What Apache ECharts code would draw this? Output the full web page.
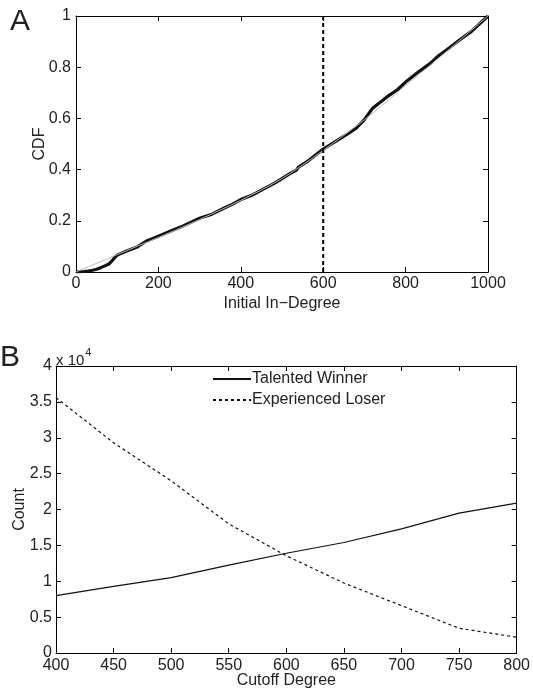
<!DOCTYPE html>
<html>
<head>
<meta charset="utf-8">
<script src="https://cdn.jsdelivr.net/npm/echarts@6/dist/echarts.min.js"></script>
<style>
html,body{margin:0;padding:0;background:#fff;}
#chart{width:533px;height:690px;}
</style>
</head>
<body>
<div id="chart"></div>
<script>
// Panel A: empirical CDF of initial in-degree
const cdfDegree = [0,10,20,30,40,50,60,70,80,88,95,100,120,150,170,200,230,260,300,330,360,380,400,430,450,480,500,520,535,540,560,580,600,620,640,660,680,700,720,740,760,780,800,830,860,880,900,930,960,1000];
const cdfValue  = [0,0.001,0.002,0.004,0.007,0.011,0.017,0.024,0.031,0.045,0.058,0.066,0.08,0.099,0.12,0.14,0.16,0.18,0.21,0.226,0.25,0.265,0.283,0.302,0.32,0.345,0.365,0.385,0.398,0.41,0.43,0.455,0.48,0.50,0.52,0.54,0.562,0.595,0.64,0.665,0.69,0.712,0.742,0.78,0.815,0.845,0.868,0.905,0.94,1.0];
// Panel A: grey reference curve
const refDegree = [0,100,200,300,400,500,600,700,800,900,1000];
const refValue  = [0,0.068,0.135,0.205,0.28,0.365,0.475,0.595,0.728,0.862,1.0];
const cutoffMark = 600;
// Panel B
const cutoffDegree = [400,450,500,550,600,650,700,750,800];
const talentedWinner = [8000,9280,10500,12250,13900,15400,17300,19500,20900];
const experiencedLoser = [35600,29300,24000,18000,13550,9750,6600,3450,2200];
const yTicksB = [0,0.5,1,1.5,2,2.5,3,3.5,4];

const FONT = "'Liberation Sans', Arial, Helvetica, sans-serif";
const TXT = '#222';
const zip = (a, b) => a.map((v, i) => [v, b[i]]);

function axisBase(extra) {
  return Object.assign({
    nameMoveOverlap: false,
    axisLine: { show: true, onZero: false, lineStyle: { color: '#000', width: 1 } },
    axisTick: { show: true, inside: true, length: 5, lineStyle: { color: '#000', width: 1 } },
    splitLine: { show: false },
    axisLabel: { color: TXT, fontSize: 16, fontFamily: FONT },
    nameTextStyle: { color: TXT, fontSize: 16, fontFamily: FONT }
  }, extra);
}
function mirror(extra) {
  const a = axisBase(extra);
  a.axisLabel = { show: false };
  return a;
}
const plain = v => String(v);

const chart = echarts.init(document.getElementById('chart'), null, { renderer: 'canvas' });
chart.setOption({
  backgroundColor: '#fff',
  animation: false,
  textStyle: { fontFamily: FONT },
  grid: [
    { left: 76, top: 16, width: 412, height: 256, containLabel: false },
    { left: 56, top: 366, width: 464, height: 287, containLabel: false }
  ],
  legend: {
    data: ['Talented Winner', 'Experienced Loser'],
    orient: 'vertical',
    left: 212,
    top: 371,
    itemWidth: 38,
    itemHeight: 2,
    itemGap: 5,
    padding: 0,
    textStyle: { color: TXT, fontSize: 16, fontFamily: FONT, padding: [0, 0, 0, -4] },
    selectedMode: false
  },
  graphic: [
    { type: 'text', left: 10, top: 7, style: { text: 'A', fontSize: 30, fontFamily: FONT, fill: TXT } },
    { type: 'text', left: 0, top: 343, style: { text: 'B', fontSize: 30, fontFamily: FONT, fill: TXT } },
    { type: 'text', left: 56, top: 347, style: {
        text: '{a|x 10}{b|4}', fontFamily: FONT, fill: TXT,
        rich: { a: { fontSize: 15, fill: TXT, fontFamily: FONT, verticalAlign: 'bottom' },
                b: { fontSize: 11, fill: TXT, fontFamily: FONT, verticalAlign: 'top', padding: [0, 0, 10, 1] } }
      } }
  ],
  xAxis: [
    axisBase({ gridIndex: 0, type: 'value', position: 'bottom', min: 0, max: 1000, interval: 200,
      name: 'Initial In\u2212Degree', nameLocation: 'middle', nameGap: 24,
      axisLabel: { color: TXT, fontSize: 16, fontFamily: FONT, margin: 4, formatter: plain } }),
    mirror({ gridIndex: 0, type: 'value', position: 'top', min: 0, max: 1000, interval: 200 }),
    axisBase({ gridIndex: 1, type: 'value', position: 'bottom', min: 400, max: 800, interval: 50,
      name: 'Cutoff Degree', nameLocation: 'middle', nameGap: 20,
      axisLabel: { color: TXT, fontSize: 16, fontFamily: FONT, margin: 5, formatter: plain } }),
    mirror({ gridIndex: 1, type: 'value', position: 'top', min: 400, max: 800, interval: 50 })
  ],
  yAxis: [
    axisBase({ gridIndex: 0, type: 'value', position: 'left', min: 0, max: 1, interval: 0.2,
      name: 'CDF', nameLocation: 'middle', nameGap: 28,
      axisLabel: { color: TXT, fontSize: 16, fontFamily: FONT, margin: 5 } }),
    mirror({ gridIndex: 0, type: 'value', position: 'right', min: 0, max: 1, interval: 0.2 }),
    axisBase({ gridIndex: 1, type: 'value', position: 'left', min: 0, max: 40000, interval: 5000,
      name: 'Count', nameLocation: 'middle', nameGap: 28,
      axisLabel: { color: TXT, fontSize: 16, fontFamily: FONT, margin: 4,
        formatter: v => String(yTicksB[Math.round(v / 5000)]) } }),
    mirror({ gridIndex: 1, type: 'value', position: 'right', min: 0, max: 40000, interval: 5000 })
  ],
  series: [
    { type: 'line', xAxisIndex: 0, yAxisIndex: 0, symbol: 'none', silent: true,
      data: zip(cdfDegree, cdfValue), lineStyle: { color: '#111', width: 3.2 }, z: 3 },
    { type: 'line', xAxisIndex: 0, yAxisIndex: 0, symbol: 'none', silent: true, smooth: 0.3,
      data: zip(refDegree, refValue), lineStyle: { color: '#b8b8b8', width: 1 }, z: 4 },
    { type: 'line', xAxisIndex: 0, yAxisIndex: 0, symbol: 'none', silent: true,
      data: [[cutoffMark, 0], [cutoffMark, 1]], lineStyle: { color: '#000', width: 2, type: [4, 3] }, z: 5 },
    { name: 'Talented Winner', type: 'line', xAxisIndex: 2, yAxisIndex: 2, symbol: 'none', silent: true,
      data: zip(cutoffDegree, talentedWinner), lineStyle: { color: '#111', width: 1.2 },
      itemStyle: { color: '#111' } },
    { name: 'Experienced Loser', type: 'line', xAxisIndex: 2, yAxisIndex: 2, symbol: 'none', silent: true,
      data: zip(cutoffDegree, experiencedLoser), lineStyle: { color: '#111', width: 1.2, type: [3, 3] },
      itemStyle: { color: '#111' } }
  ]
});
</script>
</body>
</html>
